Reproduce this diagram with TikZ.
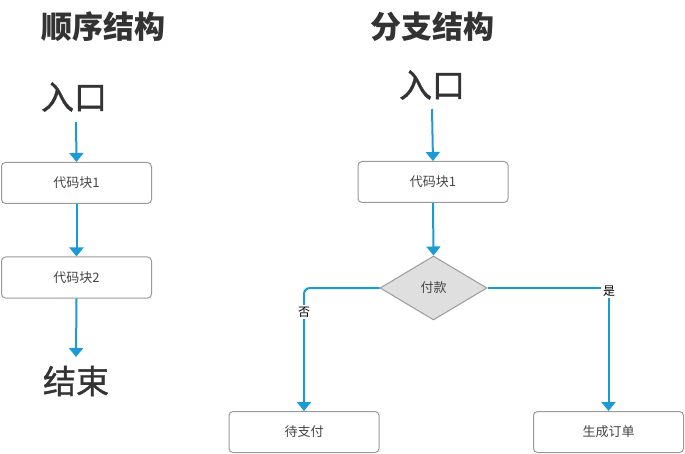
\documentclass[tikz,border=0pt]{standalone}
\usepackage{fontspec}
\setmainfont{Noto Sans CJK SC}
\newfontfamily\cjkmed[FakeBold=1.2]{Noto Sans CJK SC}
\usetikzlibrary{arrows.meta,shapes.geometric}
\definecolor{arrowblue}{HTML}{1A9BD7}
\definecolor{boxgray}{HTML}{9A9A9A}
\definecolor{txt}{HTML}{333333}
\definecolor{boxtxt}{HTML}{444444}
\tikzset{
  flow/.style={draw=arrowblue,line width=2pt,-{Triangle[width=14pt,length=9pt]}},
  codebox/.style={draw=boxgray,line width=1pt,rounded corners=4pt,minimum width=150pt,minimum height=41pt,inner sep=0pt,font=\fontsize{13}{15}\selectfont,text=boxtxt},
  bigtitle/.style={font=\fontsize{31}{34}\selectfont\bfseries,text=txt,inner sep=0pt},
  bigword/.style={font=\fontsize{33}{36}\selectfont\cjkmed,text=txt,inner sep=0pt},
  decision/.style={diamond,draw=boxgray,fill=gray!25,line width=1pt,minimum width=107pt,minimum height=64pt,aspect=1.67,inner sep=0pt,font=\fontsize{13}{15}\selectfont,text=boxtxt},
  edgelabel/.style={fill=white,inner sep=2pt,font=\fontsize{12}{14}\selectfont,text=black}
}
\begin{document}
\begin{tikzpicture}[x=1pt,y=-1pt]
\useasboundingbox (0,0) rectangle (685,454);
% left: sequence
\node[bigtitle] (t1) at (103,27) {顺序结构};
\node[bigword] (in1) at (74,97) {入口};
\node[codebox] (a1) at (76.5,183) {代码块1};
\node[codebox] (a2) at (76.5,277.5) {代码块2};
\node[bigword] (end1) at (76,381) {结束};
\coordinate (s1) at (76,122);
\coordinate (e1) at (76,357);
\draw[flow] (s1) -- (a1.north);
\draw[flow] (a1.south) -- (a2.north);
\draw[flow] (a2.south) -- (e1);
% right: branch
\node[bigtitle] (t2) at (432,27) {分支结构};
\node[bigword] (in2) at (432,85) {入口};
\node[codebox] (b1) at (433,182) {代码块1};
\node[decision] (d) at (433.5,288) {付款};
\node[codebox] (no) at (304,432) {待支付};
\node[codebox] (yes) at (608.5,432) {生成订单};
\coordinate (s2) at (432,109);
\draw[flow] (s2) -- (b1.north);
\draw[flow] (b1.south) -- (d.north);
\draw[flow,rounded corners=6pt] (d.west) -| (no.north);
\draw[flow] (d.east) -| (yes.north);
\node[edgelabel] (lno) at (304,312) {否};
\node[edgelabel] (lyes) at (609,291) {是};
\end{tikzpicture}
\end{document}
